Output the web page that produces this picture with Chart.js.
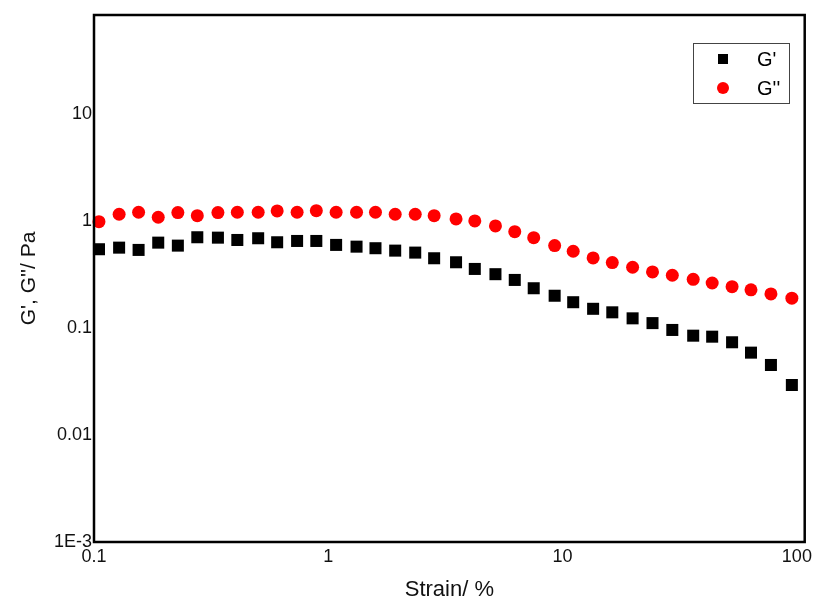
<!DOCTYPE html>
<html>
<head>
<meta charset="utf-8">
<title>Strain sweep</title>
<script src="https://cdn.jsdelivr.net/npm/chart.js@4/dist/chart.umd.min.js"></script>
<style>
  html, body { margin: 0; padding: 0; background: #fff; }
  #wrap { width: 816px; height: 602px; position: relative; }
</style>
</head>
<body>
<div id="wrap"><canvas id="sweep"></canvas></div>
<script>
// strain sweep: storage and loss modulus
const strain = [0.105, 0.128, 0.155, 0.188, 0.228, 0.276, 0.338, 0.409, 0.502, 0.605, 0.736, 0.889,
  1.08, 1.32, 1.59, 1.93, 2.35, 2.83, 3.51, 4.22, 5.17, 6.25, 7.53, 9.25,
  11.1, 13.5, 16.3, 19.9, 24.2, 29.4, 36.1, 43.5, 52.9, 63.7, 77.5, 95.2];
const gPrime = [0.544, 0.563, 0.536, 0.627, 0.588, 0.704, 0.698, 0.664, 0.689, 0.632, 0.650, 0.650,
  0.597, 0.575, 0.556, 0.528, 0.506, 0.448, 0.411, 0.356, 0.318, 0.281, 0.235, 0.200,
  0.174, 0.151, 0.140, 0.123, 0.111, 0.0958, 0.0847, 0.0829, 0.0735, 0.0588, 0.0451, 0.0293];
const gDoublePrime = [0.985, 1.155, 1.206, 1.083, 1.196, 1.12, 1.196, 1.206, 1.206, 1.24, 1.206, 1.248,
  1.206, 1.206, 1.206, 1.155, 1.155, 1.12, 1.044, 1.0, 0.898, 0.794, 0.698, 0.588,
  0.521, 0.451, 0.408, 0.369, 0.334, 0.311, 0.285, 0.263, 0.243, 0.227, 0.208, 0.190];

const xTicks = [0.1, 1, 10, 100];
const xTickLabels = ["0.1", "1", "10", "100"];
const yTicks = [0.001, 0.01, 0.1, 1, 10];
const yTickLabels = ["1E-3", "0.01", "0.1", "1", "10"];

const FONT = "'Liberation Sans', Arial, sans-serif";

function points(ys) {
  return strain.map((x, i) => ({ x: x, y: ys[i] }));
}

// black frame round the plot area + boxed legend in the top right
const framePlugin = {
  id: "frame",
  afterDraw(chart) {
    const ctx = chart.ctx;
    const a = chart.chartArea;
    ctx.save();
    ctx.strokeStyle = "#000";
    ctx.lineWidth = 2.5;
    ctx.strokeRect(a.left, a.top, a.right - a.left, a.bottom - a.top);

    // legend
    const bx = 693, by = 43, bw = 96, bh = 60;
    ctx.lineWidth = 1;
    ctx.strokeStyle = "#444";
    ctx.strokeRect(bx + 0.5, by + 0.5, bw, bh);
    ctx.font = "20px " + FONT;
    ctx.textBaseline = "middle";
    ctx.fillStyle = "#000";
    chart.data.datasets.forEach((ds, i) => {
      const cy = by + 16 + i * 29;
      ctx.fillStyle = ds.backgroundColor;
      if (ds.pointStyle === "rect") {
        ctx.fillRect(bx + 25, cy - 5, 10, 10);
      } else {
        ctx.beginPath();
        ctx.arc(bx + 30, cy, 6, 0, Math.PI * 2);
        ctx.fill();
      }
      ctx.fillStyle = "#000";
      ctx.fillText(ds.label, bx + 64, cy + 1);
    });
    ctx.restore();
  }
};

new Chart(document.getElementById("sweep"), {
  type: "scatter",
  data: {
    datasets: [
      {
        label: "G'",
        data: points(gPrime),
        pointStyle: "rect",
        pointRadius: 8.5,
        pointHoverRadius: 8.5,
        backgroundColor: "#000",
        borderColor: "#000",
        borderWidth: 0,
        clip: false
      },
      {
        label: "G''",
        data: points(gDoublePrime),
        pointStyle: "circle",
        pointRadius: 6.5,
        pointHoverRadius: 6.5,
        backgroundColor: "#ff0000",
        borderColor: "#ff0000",
        borderWidth: 0,
        clip: false
      }
    ]
  },
  options: {
    responsive: true,
    maintainAspectRatio: false,
    animation: false,
    events: [],
    layout: { padding: { top: 15, right: 10, left: 0, bottom: 0 } },
    plugins: {
      legend: { display: false },
      tooltip: { enabled: false }
    },
    scales: {
      x: {
        type: "logarithmic",
        min: 0.1,
        max: 108,
        afterFit(scale) { scale.height = 60; },
        afterBuildTicks(scale) { scale.ticks = xTicks.map(v => ({ value: v })); },
        grid: { display: false, drawTicks: false },
        border: { display: false },
        ticks: {
          padding: 4,
          color: "#111",
          font: { family: FONT, size: 18 },
          autoSkip: false,
          maxRotation: 0,
          callback: (v) => xTickLabels[xTicks.indexOf(v)]
        },
        title: {
          display: true,
          text: "Strain/ %",
          color: "#111",
          font: { family: FONT, size: 22 },
          padding: { top: 0, bottom: -1 }
        }
      },
      y: {
        type: "logarithmic",
        min: 0.001,
        max: 84,
        afterFit(scale) { scale.width = 94; },
        afterBuildTicks(scale) { scale.ticks = yTicks.map(v => ({ value: v })); },
        grid: { display: false, drawTicks: false },
        border: { display: false },
        ticks: {
          padding: 2,
          color: "#111",
          font: { family: FONT, size: 18 },
          autoSkip: false,
          callback: (v) => yTickLabels[yTicks.indexOf(v)]
        },
        title: {
          display: true,
          text: "G', G''/ Pa",
          color: "#111",
          font: { family: FONT, size: 21 },
          padding: { top: 17, bottom: 0 }
        }
      }
    }
  },
  plugins: [framePlugin]
});
</script>
</body>
</html>
